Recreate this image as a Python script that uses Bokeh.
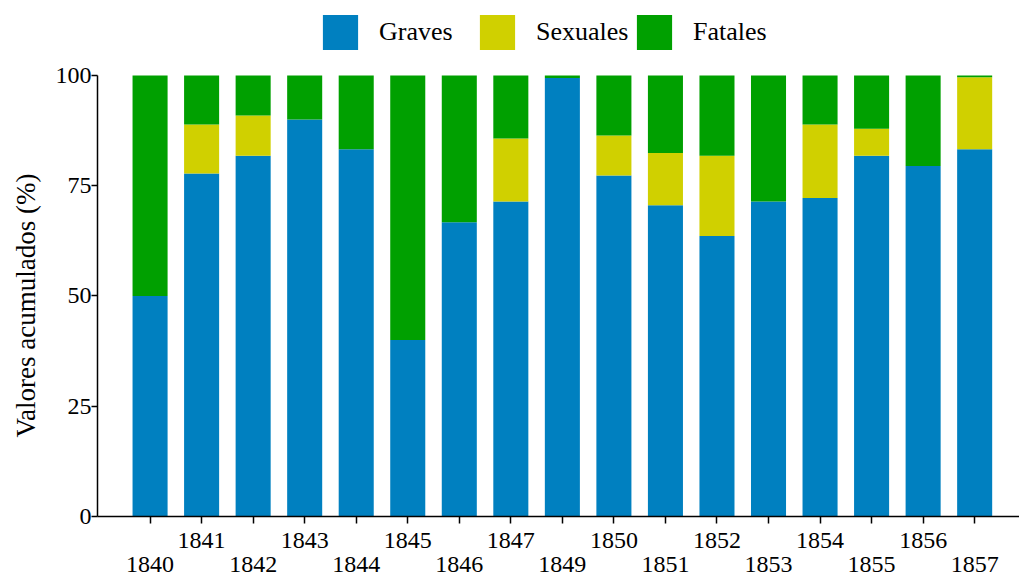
from bokeh.plotting import figure
from bokeh.models import Range1d, FixedTicker, LinearAxis, Legend, LegendItem, ColumnDataSource, Title
from bokeh.embed import file_html
from bokeh.resources import INLINE

years = ["1840", "1841", "1842", "1843", "1844", "1845", "1846", "1847", "1849",
         "1850", "1851", "1852", "1853", "1854", "1855", "1856", "1857"]
graves = [50, 77.8, 81.8, 90, 83.3, 40, 66.7, 71.4, 99.4, 77.3, 70.6, 63.6, 71.4, 72.2, 81.8, 79.5, 83.3]
sexuales = [0, 11.1, 9.1, 0, 0, 0, 0, 14.3, 0, 9.1, 11.8, 18.2, 0, 16.7, 6.1, 0, 16.3]
fatales = [50, 11.1, 9.1, 10, 16.7, 60, 33.3, 14.3, 0.6, 13.6, 17.6, 18.2, 28.6, 11.1, 12.1, 20.5, 0.4]
series = ["Graves", "Sexuales", "Fatales"]
colors = ["#0080C0", "#D0D000", "#00A000"]
y_ticks = [0, 25, 50, 75, 100]
y_title = "Valores acumulados (%)"

FONT = "Liberation Serif"

xs = list(range(len(years)))
source = ColumnDataSource(dict(x=xs, Graves=graves, Sexuales=sexuales, Fatales=fatales))

p = figure(width=1019, height=577, x_range=Range1d(-1.02, 16.87), y_range=Range1d(0, 117.0),
           output_backend="svg", toolbar_location=None, x_axis_location=None,
           min_border_left=97, min_border_right=0, min_border_top=0, min_border_bottom=61)
p.outline_line_color = None
p.grid.grid_line_color = None
p.background_fill_color = "white"

rs = p.vbar_stack(series, x="x", width=0.68, source=source, color=colors, line_color=None)

# y axis
ya = p.yaxis[0]
ya.bounds = (0, 100)
ya.ticker = FixedTicker(ticks=y_ticks)
ya.major_tick_out = 6
ya.major_tick_in = 0
ya.minor_tick_line_color = None
ya.axis_line_width = 1.5
ya.major_tick_line_width = 1.5
ya.major_label_standoff = 0
ya.major_label_text_font = FONT
ya.major_label_text_font_size = "24px"
ya.major_label_text_color = "black"

# y axis title, centred on the 0-100 span of the axis
yt = Title(text=y_title, align="left", offset=79, standoff=19, vertical_align="top",
           text_font=FONT, text_font_size="27px", text_font_style="normal",
           text_color="black")
p.add_layout(yt, "left")

# x axes (staggered labels)
upper = {i: (years[i] if i % 2 == 1 else "") for i in xs}
lower = {i: years[i] for i in xs if i % 2 == 0}

xa1 = LinearAxis(ticker=FixedTicker(ticks=xs), major_label_overrides=upper)
xa1.major_tick_out = 7
xa1.major_tick_in = 0
xa1.minor_tick_line_color = None
xa1.axis_line_width = 1.5
xa1.major_tick_line_width = 1.5
xa1.major_label_standoff = 9
xa1.major_label_text_font = FONT
xa1.major_label_text_font_size = "24px"
xa1.major_label_text_color = "black"

xa2 = LinearAxis(ticker=FixedTicker(ticks=[i for i in xs if i % 2 == 0]), major_label_overrides=lower)
xa2.axis_line_color = None
xa2.major_tick_line_color = None
xa2.minor_tick_line_color = None
xa2.major_tick_out = 0
xa2.major_tick_in = 0
xa2.major_label_standoff = 6
xa2.major_label_text_font = FONT
xa2.major_label_text_font_size = "24px"
xa2.major_label_text_color = "black"

p.add_layout(xa1, "below")
p.add_layout(xa2, "below")

legend = Legend(items=[LegendItem(label=s, renderers=[r]) for s, r in zip(series, rs)],
                orientation="horizontal", location=(221, 462),
                glyph_width=44, glyph_height=44, label_standoff=17, label_width=96,
                spacing=0, padding=0, margin=0, border_line_color=None,
                background_fill_alpha=0,
                label_text_font=FONT, label_text_font_size="26px", label_text_color="black")
p.add_layout(legend, "center")

open("out.html", "w").write(file_html(p, INLINE))
